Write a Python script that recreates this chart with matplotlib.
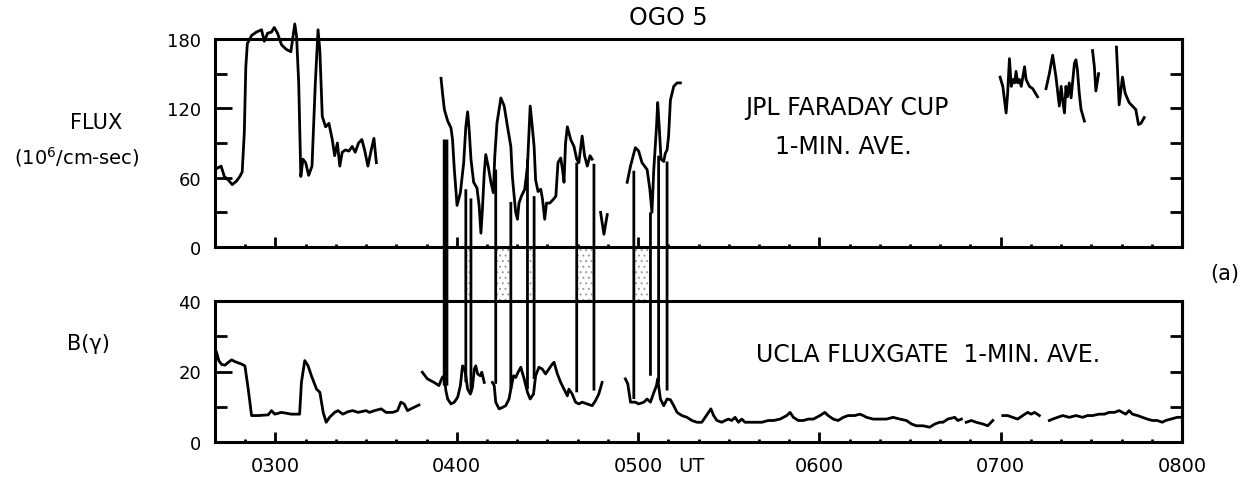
import numpy as np
import matplotlib.pyplot as plt
from matplotlib.patches import ConnectionPatch, Polygon
from matplotlib.ticker import MultipleLocator, FixedLocator

nan = np.nan

# JPL Faraday cup flux, 1-min averages (UT in minutes after 0000, 10^6/cm-sec)
flux_time = [160.6, 162.0, 163.1, 164.4, 165.7, 167.1, 168.2, 169.0, 169.7, 170.2,
             170.7, 172.1, 173.7, 175.4, 176.3, 177.4, 178.7, 179.6, 180.7, 182.0,
             183.6, 185.1, 186.4, 187.0, 187.7, 188.4, 189.1, 190.0, 191.0, 192.1,
             193.2, 194.1, 194.7, 195.5, 196.6, 197.7, 198.8, 199.6, 200.5, 201.3,
             202.1, 203.2, 204.3, 205.4, 206.4, 207.5, 208.6, 209.5, 210.6, 211.7,
             212.6, 213.4, nan,
             234.8, 235.3, 235.9, 237.0, 238.1, 238.6, 239.2, 240.1, 241.2, 242.3,
             243.0, 243.6, 244.1, 244.7, 245.6, 246.7, 247.4, 248.0, 248.5, 249.1,
             249.6, 250.4, 251.3, 252.1, 252.6, 253.3, 254.6, 255.7, 256.8, 257.9,
             258.4, 259.5, 260.1, 260.6, 261.4, 262.5, 263.4, 264.3, 265.0, 265.6,
             266.1, 266.9, 267.8, 268.4, 269.1, 269.7, 270.8, 271.9, 272.8, 273.5,
             274.4, 275.0, 275.5, 276.0, 276.6, 277.7, 278.8, 279.7, 280.4, 281.5,
             282.3, 283.2, 284.1, 284.8, nan,
             287.6, 288.7, 289.8, nan,
             296.4, 297.5, 299.1, 300.2, 301.3, 303.0, 303.9, 304.3, 304.6, 305.2,
             306.1, 306.5, 307.0, 307.6, 308.5, 309.0, 309.6, 310.1, 310.7, 311.8,
             312.9, 314.0, nan,
             419.8, 420.7, 421.8, 422.3, 422.9, 423.5, 424.0, 424.6, 425.1, 425.6,
             426.2, 426.8, 427.9, 428.4, 429.5, 430.6, 432.2, nan,
             435.0, 436.1, 437.2, 438.3, 439.4, 440.0, 440.5, 441.1, 441.6, 442.1,
             442.7, 443.3, 444.4, 444.9, 445.4, 446.0, 446.6, 447.7, nan,
             450.4, 451.0, 451.5, 452.4, nan,
             458.3, 459.2, 460.3, 461.2, 462.5, 463.6, 464.7, 465.6, 466.4, 467.5]
flux_val = [68, 70, 61, 58, 54, 57, 61, 65, 99, 156,
            176, 183, 186, 188, 178, 185, 186, 190, 185, 175,
            171, 169, 193, 182, 142, 61, 76, 73, 62, 70,
            142, 188, 170, 113, 104, 107, 93, 79, 90, 70,
            82, 84, 83, 87, 82, 90, 93, 84, 70, 84,
            94, 73, nan,
            146, 133, 119, 109, 103, 93, 67, 36, 47, 73,
            104, 117, 102, 76, 56, 51, 36, 12, 33, 64,
            80, 70, 56, 47, 79, 107, 129, 122, 104, 87,
            61, 30, 24, 38, 44, 50, 70, 122, 104, 87,
            58, 48, 50, 41, 24, 38, 38, 41, 44, 73,
            77, 67, 56, 90, 104, 93, 87, 76, 73, 96,
            79, 70, 79, 76, nan,
            30, 11, 28, nan,
            56, 70, 86, 83, 73, 67, 50, 38, 30, 67,
            104, 125, 104, 76, 74, 81, 84, 96, 127, 139,
            142, 142, nan,
            147, 139, 116, 133, 163, 139, 145, 142, 152, 142,
            145, 139, 156, 145, 139, 137, 130, nan,
            137, 150, 166, 147, 122, 139, 127, 116, 139, 130,
            142, 129, 159, 162, 153, 133, 119, 109, nan,
            170, 156, 135, 150, nan,
            173, 123, 147, 133, 125, 122, 119, 106, 107, 112]

# UCLA fluxgate field magnitude, 1-min averages (gamma)
b_time = [160.5, 161.3, 162.2, 163.3, 164.4, 165.5, 166.6, 168.8, 169.9, 171.0,
          172.1, 174.3, 177.6, 178.7, 179.8, 182.0, 185.3, 188.0, 188.6, 189.7,
          190.8, 191.9, 193.6, 194.7, 195.8, 196.8, 197.9, 199.6, 200.7, 202.3,
          204.0, 205.6, 207.3, 208.4, 210.0, 211.1, 212.8, 215.0, 216.6, 218.8,
          220.4, 221.5, 222.6, 223.7, 224.8, 227.0, 227.5, nan,
          228.6, 230.3, 232.5, 234.1, 235.2, 235.9, 236.4, 237.0, 238.1, 239.2,
          240.3, 241.2, 241.9, 242.5, 243.0, 243.6, 244.5, 245.2, 245.8, 246.3,
          246.9, 247.8, 248.3, 249.1, nan,
          251.8, 252.4, 252.9, 254.0, 255.1, 256.2, 257.3, 257.9, 258.8, 259.5,
          260.3, 261.2, 262.3, 263.4, 264.3, 265.4, 266.1, 267.2, 268.3, 269.4,
          270.5, 271.6, 272.2, 273.3, 274.4, 275.5, 276.6, 277.1, 278.2, 279.3,
          280.4, 281.5, 283.2, 284.8, 285.9, 287.0, 288.1, nan,
          295.8, 296.6, 297.5, 299.1, 300.2, 301.9, 303.0, 304.1, 305.2, 306.1,
          306.5, 307.4, 308.5, 309.6, 310.7, 311.8, 312.9, 314.5, 316.2, 317.8,
          319.5, 321.1, 322.2, 323.3, 324.1, 325.0, 326.1, 327.7, 328.8, 329.9,
          331.0, 332.1, 333.2, 334.3, 335.4, 337.1, 338.7, 341.0, 343.1, 344.8,
          347.0, 349.2, 350.3, 351.4, 353.0, 354.7, 356.3, 358.0, 360.2, 361.8,
          362.9, 364.6, 366.2, 367.9, 369.5, 371.7, 373.4, 374.5, 375.6, 377.8,
          380.0, 382.2, 384.4, 386.6, 388.8, 390.5, 392.1, 394.3, 396.5, 398.2,
          399.8, 400.9, 402.5, 404.8, 405.8, 407.0, nan,
          408.6, 410.3, 411.9, 414.1, 415.7, 417.4, nan,
          420.7, 422.3, 424.0, 425.6, 427.3, 428.9, 430.1, 431.2, 432.8, nan,
          436.1, 437.2, 438.8, 440.5, 442.7, 444.9, 447.1, 448.7, 450.4, 452.6,
          454.3, 455.9, 457.6, 459.2, 460.3, 461.4, 462.5, 463.6, 465.3, 466.9,
          468.5, 470.2, 471.8, 473.5, 474.6, 476.3, 478.4, 479.6]
b_val = [25.5, 23.0, 22.0, 21.8, 22.6, 23.3, 22.8, 22.1, 21.6, 15.0,
         7.5, 7.5, 7.7, 8.9, 7.9, 8.4, 7.9, 7.9, 16.9, 23.1,
         21.6, 18.8, 15.0, 14.1, 8.4, 5.6, 7.0, 8.4, 8.9, 7.9,
         8.6, 8.9, 8.4, 8.6, 8.9, 8.4, 8.9, 9.4, 8.4, 8.4,
         8.9, 11.3, 10.8, 8.9, 9.4, 10.3, 10.5, nan,
         19.8, 17.9, 16.9, 16.0, 18.3, 18.8, 14.6, 12.2, 10.8, 11.3,
         12.7, 16.0, 21.6, 21.2, 18.8, 15.0, 13.6, 15.5, 20.7, 21.6,
         19.3, 18.8, 19.8, 16.9, nan,
         16.9, 16.0, 11.3, 9.4, 9.8, 10.3, 12.2, 15.0, 18.8, 18.3,
         19.8, 21.2, 17.9, 14.1, 12.2, 13.6, 18.8, 21.2, 20.7, 19.3,
         20.7, 22.1, 22.6, 19.3, 16.9, 15.0, 13.1, 15.0, 13.6, 11.3,
         10.8, 11.3, 10.8, 10.3, 11.7, 13.6, 16.9, nan,
         17.9, 16.5, 11.3, 11.3, 10.8, 11.3, 12.2, 11.3, 14.0, 16.0,
         17.9, 12.2, 10.3, 12.2, 12.0, 10.3, 8.4, 7.5, 7.0, 6.1,
         5.6, 5.6, 7.0, 8.4, 9.4, 7.5, 6.1, 5.6, 6.1, 6.5,
         6.1, 7.0, 5.6, 6.5, 5.6, 5.6, 5.6, 5.6, 6.1, 6.1,
         6.5, 7.5, 8.4, 7.0, 6.1, 6.1, 6.5, 6.5, 7.5, 8.4,
         7.5, 6.5, 6.1, 7.0, 7.5, 7.5, 7.9, 7.5, 7.0, 6.5,
         6.5, 6.5, 7.0, 6.5, 6.1, 5.1, 4.6, 4.6, 4.2, 5.1,
         5.6, 5.6, 6.5, 7.0, 6.1, 6.5, nan,
         5.6, 6.1, 5.6, 5.1, 4.6, 6.1, nan,
         7.5, 7.5, 7.0, 6.5, 7.5, 8.4, 7.9, 8.4, 7.5, nan,
         6.1, 6.5, 7.0, 7.5, 7.0, 7.5, 7.0, 7.5, 7.5, 7.9,
         7.9, 8.4, 8.4, 8.9, 8.4, 7.9, 8.9, 7.9, 7.5, 7.0,
         6.5, 6.1, 6.1, 5.6, 6.1, 6.5, 7.0, 7.0]

# boundary crossings linking the two panels: UT min, flux at top end, B at bottom end
bar_time = [236.3, 243.0, 244.7, 252.9, 257.9, 263.4, 265.6, 279.7, 285.4,
            298.6, 304.1, 306.8, 309.6]
bar_flux = [93, 50, 42, 67, 39, 76, 44, 73, 72, 66, 30, 79, 74]
bar_b = [16.0, 17.0, 14.0, 16.5, 15.0, 15.0, 17.9, 14.1, 14.6, 12.2, 18.8, 16.9, 14.6]

# stippled intervals, as pairs of bar indices
shade_pairs = [(1, 2), (3, 4), (5, 6), (7, 8), (9, 10)]

hour_ticks = [180, 240, 300, 360, 420, 480]
hour_labels = ['0300', '0400', '0500', '0600', '0700', '0800']

W, H = 1243, 481
fig = plt.figure(figsize=(W / 100, H / 100), dpi=100)
ax1 = fig.add_axes([215 / W, 1 - 248 / H, 967 / W, 208 / H])
ax2 = fig.add_axes([215 / W, 1 - 443 / H, 967 / W, 141 / H])

for ax in (ax1, ax2):
    ax.set_xlim(160, 480)
    ax.xaxis.set_major_locator(FixedLocator(hour_ticks))
    ax.xaxis.set_minor_locator(MultipleLocator(10))
    ax.tick_params(axis='x', which='major', direction='in', length=7, width=2,
                   pad=10, labelsize=14)
    ax.tick_params(axis='x', which='minor', direction='in', length=2.5, width=2)
    ax.tick_params(axis='y', which='major', direction='in', length=12, width=2,
                   pad=10, labelsize=13)
    ax.tick_params(axis='y', which='minor', direction='in', length=8.5, width=2)
    for s in ax.spines.values():
        s.set_linewidth(2.2)

ax1.set_ylim(0, 180)
ax1.yaxis.set_major_locator(MultipleLocator(60))
ax1.yaxis.set_minor_locator(MultipleLocator(30))
ax1.tick_params(labelbottom=False)

ax2.set_ylim(0, 40)
ax2.yaxis.set_major_locator(MultipleLocator(20))
ax2.yaxis.set_minor_locator(MultipleLocator(10))
ax2.set_xticklabels(hour_labels)

# short inward ticks on the right-hand frame
for ax, rt in ((ax1, [30, 60, 90, 120, 150]), (ax2, [10, 20, 30])):
    sec = ax.secondary_yaxis('right')
    sec.set_yticks(rt)
    sec.tick_params(direction='in', length=8.5, width=2, labelright=False)
    sec.spines['right'].set_linewidth(2.2)

ax1.plot(flux_time, flux_val, color='black', lw=2.0, clip_on=False)
ax2.plot(b_time, b_val, color='black', lw=2.0, clip_on=False)

# crossing bars spanning both panels
to_fig = fig.transFigure.inverted()
for i, (t, f, b) in enumerate(zip(bar_time, bar_flux, bar_b)):
    con = ConnectionPatch(xyA=(t, f), coordsA=ax1.transData,
                          xyB=(t, b), coordsB=ax2.transData,
                          color='black', lw=4.0 if i == 0 else 2.0)
    con.set_capstyle('butt')
    fig.add_artist(con)

plt.rcParams['hatch.linewidth'] = 0.7
for a, b in shade_pairs:
    pts = [ax1.transData.transform((bar_time[a], bar_flux[a])),
           ax1.transData.transform((bar_time[b], bar_flux[b])),
           ax2.transData.transform((bar_time[b], bar_b[b])),
           ax2.transData.transform((bar_time[a], bar_b[a]))]
    poly = Polygon(to_fig.transform(pts), closed=True, transform=fig.transFigure,
                   facecolor='none', edgecolor='#9a9a9a', hatch='...', lw=0,
                   zorder=0)
    fig.add_artist(poly)

ax1.text(369, 121, 'JPL FARADAY CUP', ha='center', va='center', fontsize=17)
ax1.text(368, 87, '1-MIN. AVE.', ha='center', va='center', fontsize=17)
ax2.text(396, 25, 'UCLA FLUXGATE  1-MIN. AVE.', ha='center', va='center', fontsize=17)
ax2.text(317.8, -0.17, 'UT', transform=ax2.get_xaxis_transform(),
         ha='center', va='center', fontsize=14)

fig.text(668 / W, 1 - 18 / H, 'OGO 5', ha='center', va='center', fontsize=17)
fig.text(96 / W, 1 - 123 / H, 'FLUX', ha='center', va='center', fontsize=15)
fig.text(77 / W, 1 - 157 / H, r'(10$^6$/cm-sec)', ha='center', va='center', fontsize=14)
fig.text(88 / W, 1 - 344 / H, 'B(γ)', ha='center', va='center', fontsize=15)
fig.text(1225 / W, 1 - 274 / H, '(a)', ha='center', va='center', fontsize=15)

fig.savefig('out.png', dpi=100)
